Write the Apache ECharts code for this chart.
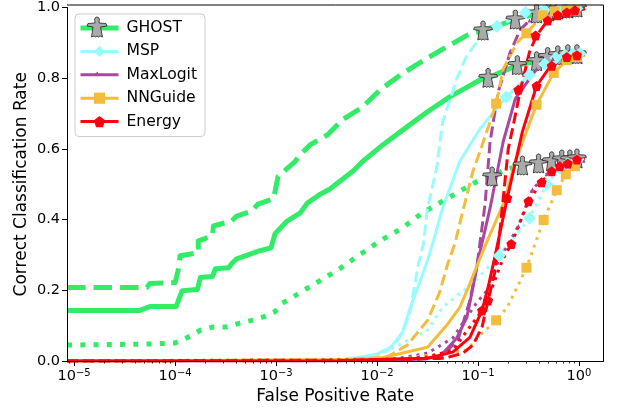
<!DOCTYPE html>
<html><head><meta charset="utf-8">
<style>html,body{margin:0;padding:0;background:#fff}#c{width:618px;height:411px}</style>
<script src="https://cdn.jsdelivr.net/npm/echarts@6/dist/echarts.min.js"></script>
</head><body><div id="c"></div>
<script>
// Every pair is [log10(False Positive Rate), Correct Classification Rate]
const ghostSolid=[[-5.07,.143],[-4.35,.143],[-4.25,.154],[-3.99,.154],[-3.93,.199],[-3.78,.202],[-3.75,.236],[-3.63,.239],[-3.60,.261],[-3.47,.264],[-3.44,.275],[-3.39,.289],[-3.16,.312],[-3.05,.320],[-3.01,.360],[-2.89,.396],[-2.76,.419],[-2.69,.447],[-2.56,.472],[-2.47,.486],[-2.24,.537],[-2.14,.565],[-1.94,.612],[-1.70,.663],[-1.50,.705],[-1.28,.747],[-.98,.795],[-.90,.801],[-.61,.837],[-.42,.848],[-.31,.860],[-.21,.865],[-.11,.868],[.06,.868]];
const ghostDashed=[[-5.07,.208],[-4.28,.208],[-4.25,.219],[-4.00,.222],[-3.97,.256],[-3.95,.298],[-3.77,.306],[-3.77,.340],[-3.63,.354],[-3.62,.382],[-3.44,.396],[-3.39,.410],[-3.24,.424],[-3.18,.444],[-3.03,.458],[-3.01,.480],[-2.98,.522],[-2.81,.565],[-2.76,.584],[-2.66,.612],[-2.49,.640],[-2.34,.683],[-2.14,.719],[-1.97,.767],[-1.77,.809],[-1.60,.840],[-1.35,.882],[-1.11,.921],[-.95,.935],[-.63,.966],[-.42,.983],[-.30,.989],[-.21,.994],[-.11,.997],[.06,1.0]];
const ghostDotted=[[-5.07,.045],[-4.25,.048],[-4.00,.051],[-3.85,.070],[-3.75,.087],[-3.63,.096],[-3.50,.096],[-3.36,.107],[-3.24,.115],[-3.11,.126],[-3.01,.140],[-2.94,.163],[-2.81,.185],[-2.76,.194],[-2.56,.228],[-2.37,.261],[-2.17,.301],[-1.97,.340],[-1.75,.376],[-1.55,.419],[-1.35,.452],[-1.11,.492],[-.99,.511],[-.86,.522],[-.73,.542],[-.56,.553],[-.40,.559],[-.27,.565],[-.17,.570],[.06,.573]];
const ghostSolidMarks=[[-.90,.801],[-.61,.837],[-.42,.848],[-.31,.860],[-.21,.865],[-.11,.868],[-.02,.868]];
const ghostDashedMarks=[[-.95,.935],[-.63,.966],[-.42,.983],[-.30,.989],[-.21,.994],[-.11,.997],[-.02,1.0]];
const ghostDottedMarks=[[-.86,.522],[-.56,.553],[-.40,.559],[-.27,.565],[-.17,.570],[-.09,.570],[-.02,.573]];

const mspSolid=[[-5.07,0],[-2.37,.003],[-2.17,.011],[-2.00,.020],[-1.87,.037],[-1.75,.079],[-1.67,.152],[-1.57,.228],[-1.50,.284],[-1.45,.331],[-1.35,.433],[-1.18,.565],[-.98,.657],[-.72,.747],[-.49,.809],[-.34,.840],[-.23,.857],[-.14,.865],[-.06,.868],[.06,.871]];
const mspDashed=[[-5.07,0],[-2.37,.003],[-2.17,.008],[-1.97,.020],[-1.82,.045],[-1.72,.101],[-1.67,.143],[-1.59,.275],[-1.54,.331],[-1.50,.433],[-1.41,.545],[-1.35,.677],[-1.21,.798],[-1.11,.865],[-1.01,.902],[-.81,.947],[-.53,.986],[-.34,.992],[-.19,.994],[-.04,.997],[.06,.997]];
const mspDotted=[[-5.07,0],[-2.37,.003],[-2.07,.008],[-1.84,.037],[-1.50,.087],[-1.35,.152],[-1.18,.191],[-1.05,.219],[-.93,.256],[-.79,.298],[-.63,.354],[-.49,.404],[-.32,.500],[-.19,.545],[-.11,.559],[-.02,.567],[.06,.570]];
const mspSolidMarks=[[-.72,.747],[-.49,.809],[-.34,.840],[-.23,.857],[-.14,.865],[-.06,.868],[.01,.870]];
const mspDashedMarks=[[-.81,.947],[-.53,.986],[-.34,.992],[-.19,.994],[-.09,.995],[-.02,.997]];
const mspDottedMarks=[[-.79,.298],[-.49,.404],[-.32,.500],[-.19,.545],[-.11,.559],[-.02,.567]];

const maxSolid=[[-5.07,0],[-1.70,.003],[-1.38,.011],[-1.21,.065],[-1.11,.124],[-1.05,.208],[-1.00,.284],[-.88,.433],[-.75,.621],[-.63,.742],[-.42,.826],[-.26,.854],[-.06,.868],[.06,.868]];
const maxDashed=[[-5.07,0],[-1.70,.003],[-1.38,.008],[-1.20,.059],[-1.08,.171],[-1.01,.270],[-.93,.444],[-.88,.621],[-.80,.761],[-.68,.874],[-.58,.938],[-.49,.963],[-.29,.986],[.06,.997]];
const maxDotted=[[-5.07,0],[-1.87,.003],[-1.50,.022],[-1.25,.065],[-1.01,.166],[-.91,.199],[-.81,.275],[-.60,.382],[-.46,.486],[-.32,.528],[-.19,.556],[.06,.565]];
const maxSolidMarks=[[-.63,.742],[-.42,.826],[-.26,.854],[-.06,.868]];
const maxDashedMarks=[[-.68,.874],[-.49,.963],[-.29,.986]];
const maxDottedMarks=[[-.60,.382],[-.46,.486],[-.32,.528],[-.19,.556]];

const nnSolid=[[-5.07,0],[-2.47,.003],[-1.97,.008],[-1.50,.039],[-1.31,.101],[-1.18,.152],[-1.08,.219],[-.95,.312],[-.75,.444],[-.63,.565],[-.52,.649],[-.42,.725],[-.25,.815],[-.12,.851],[-.02,.860],[.06,.865]];
const nnDashed=[[-5.07,0],[-2.37,.003],[-1.90,.011],[-1.70,.045],[-1.50,.115],[-1.38,.194],[-1.30,.275],[-1.23,.331],[-1.15,.424],[-1.05,.537],[-.98,.593],[-.82,.728],[-.75,.826],[-.61,.902],[-.52,.927],[-.36,.978],[-.24,.989],[.06,.994]];
const nnDotted=[[-5.07,0],[-1.77,.006],[-1.38,.020],[-1.11,.031],[-.98,.073],[-.82,.115],[-.71,.152],[-.58,.228],[-.52,.264],[-.47,.303],[-.35,.399],[-.22,.483],[-.13,.528],[-.04,.551],[.06,.565]];
const nnSolidMarks=[[-.42,.725],[-.25,.815],[-.12,.851],[-.02,.860]];
const nnDashedMarks=[[-.82,.728],[-.52,.927],[-.36,.978],[-.24,.989],[-.13,.992],[-.04,.994]];
const nnDottedMarks=[[-.82,.115],[-.52,.264],[-.35,.399],[-.22,.483],[-.13,.528],[-.04,.551]];

const energySolid=[[-5.07,0],[-2.37,.001],[-1.84,.006],[-1.50,.008],[-1.25,.025],[-1.08,.067],[-.96,.143],[-.90,.208],[-.83,.298],[-.71,.461],[-.56,.649],[-.42,.778],[-.29,.831],[-.12,.860],[-.02,.865],[.06,.868]];
const energyDashed=[[-5.07,0],[-2.37,.001],[-1.33,.008],[-1.15,.022],[-1.05,.045],[-.96,.096],[-.90,.171],[-.83,.256],[-.78,.376],[-.70,.601],[-.66,.654],[-.58,.767],[-.49,.874],[-.42,.921],[-.31,.963],[.06,.997]];
const energyDotted=[[-5.07,0],[-2.00,.003],[-1.50,.011],[-1.25,.031],[-.98,.135],[-.86,.208],[-.76,.284],[-.67,.331],[-.50,.452],[-.37,.506],[-.27,.537],[-.19,.551],[-.11,.559],[-.02,.570],[.06,.573]];
const energySolidMarks=[[-.96,.143],[-.71,.461],[-.42,.778],[-.27,.835],[-.12,.860],[-.02,.865]];
const energyDashedMarks=[[-.90,.171],[-.60,.767],[-.43,.921],[-.31,.963],[-.21,.978],[-.12,.986],[-.04,.992]];
const energyDottedMarks=[[-.67,.331],[-.50,.452],[-.37,.506],[-.27,.537],[-.19,.551],[-.11,.559],[-.02,.570]];

const xTickExponents=[-5,-4,-3,-2,-1,0];

const ghostOutline=[[10,0],[8.4,.6],[7.6,2],[7.8,3.6],[8,6],[1,6.5],[0,9],[6,10],[4.5,20],[7,19],[8.5,20],[10,19],[11.5,20],[13,19],[15.5,20],[13.5,10],[20,9],[19,6.5],[12,6],[12.2,3.6],[12.4,2],[11.6,.6]];
const ghostPath='path://M'+ghostOutline.map(p=>p.join(' ')).join('L')+'Z';
const pentagonPath='path://M10 0L20 7.6 16.2 20 3.8 20 0 7.6Z';

const methods=[
 {name:'GHOST',color:'#32EC68',width:5,symbol:ghostPath,size:19,fill:'#AAAAAA',ownLegendMark:true,sets:[ghostSolid,ghostDashed,ghostDotted],marks:[ghostSolidMarks,ghostDashedMarks,ghostDottedMarks]},
 {name:'MSP',color:'#99FAFF',width:3,symbol:'diamond',size:13,sets:[mspSolid,mspDashed,mspDotted],marks:[mspSolidMarks,mspDashedMarks,mspDottedMarks]},
 {name:'MaxLogit',color:'#A8489E',width:3,symbol:'triangle',size:4,ownLegendMark:true,sets:[maxSolid,maxDashed,maxDotted],marks:[maxSolidMarks,maxDashedMarks,maxDottedMarks]},
 {name:'NNGuide',color:'#F4BC3C',width:3,symbol:'rect',size:10,sets:[nnSolid,nnDashed,nnDotted],marks:[nnSolidMarks,nnDashedMarks,nnDottedMarks]},
 {name:'Energy',color:'#FF0010',width:3,symbol:pentagonPath,size:10,sets:[energySolid,energyDashed,energyDotted],marks:[energySolidMarks,energyDashedMarks,energyDottedMarks]}
];
const toPoint=p=>[Math.pow(10,p[0]),p[1]];
const series=[];
methods.forEach(m=>{
  const dashes=['solid',[3.7*m.width,1.6*m.width],[1*m.width,1.65*m.width]];
  const markerStyle=m.fill?{color:m.fill,borderColor:'#222',borderWidth:.8}:{color:m.color};
  m.sets.forEach((set,i)=>{
    series.push({type:'line',name:i===0?m.name:m.name+' '+i,data:set.map(toPoint),
      symbol:m.symbol,symbolSize:m.size,showSymbol:false,
      lineStyle:{color:m.color,width:m.width,type:dashes[i],cap:'butt',join:'round'},
      itemStyle:markerStyle,silent:true,animation:false,z:3,clip:true});
    series.push({type:'scatter',name:m.name+' marks '+i,data:m.marks[i].map(toPoint),
      symbol:m.symbol,symbolSize:m.size,itemStyle:Object.assign({opacity:1},markerStyle),
      silent:true,animation:false,z:3,clip:true});
  });
});
const minorTicks=[];
for(let e=-6;e<=0;e++){for(let k=2;k<=9;k++){const v=k*Math.pow(10,e);if(v>=8.5e-6&&v<=1.75)minorTicks.push(v);}}
const font='"DejaVu Sans"';
const expLabel=v=>{const e=Math.round(Math.log10(v));return '{b|10}{s|'+(e<0?'\u2212'+(-e):e)+'}';};
const option={
  animation:false,backgroundColor:'#fff',
  grid:{left:67,right:14.5,top:5,bottom:50,containLabel:false},
  legend:{orient:'vertical',left:75,top:14,padding:[6,8,7,3],
    data:methods.map(m=>({name:m.name,
      lineStyle:{width:m.width,color:m.color},
      itemStyle:m.ownLegendMark?{color:'transparent',borderWidth:0,borderColor:'transparent'}:undefined})),
    itemWidth:38,itemHeight:14,itemGap:7.4,
    backgroundColor:'rgba(255,255,255,.8)',borderColor:'#ccc',borderWidth:1,borderRadius:4,
    textStyle:{fontFamily:font,fontSize:15.6,color:'#000',padding:[0,0,0,3]},selectedMode:false,z:20},
  xAxis:[{type:'log',logBase:10,min:8.5e-6,max:1.75,position:'bottom',name:'False Positive Rate',nameLocation:'middle',nameGap:27,
    nameTextStyle:{fontFamily:font,fontSize:17,color:'#000'},
    axisLine:{show:true,onZero:false,lineStyle:{color:'#000',width:1}},
    axisTick:{show:true,length:5,inside:false,lineStyle:{color:'#000',width:1},customValues:xTickExponents.map(e=>Math.pow(10,e))},
    axisLabel:{show:true,margin:7,fontFamily:font,fontSize:14.5,color:'#000',customValues:xTickExponents.map(e=>Math.pow(10,e)),
      formatter:expLabel,
      rich:{b:{fontFamily:font,fontSize:14.5,color:'#000'},s:{fontFamily:font,fontSize:10,color:'#000',verticalAlign:'top',padding:[0,0,6,0]}}},
    splitLine:{show:false},minorSplitLine:{show:false},z:10},
   {type:'log',logBase:10,min:8.5e-6,max:1.75,position:'bottom',
    axisLine:{show:false},axisLabel:{show:false},splitLine:{show:false},
    axisTick:{show:true,length:2.5,lineStyle:{color:'#000',width:.8},customValues:minorTicks},z:10}],
  yAxis:{type:'value',min:0,max:1,interval:.2,name:'Correct Classification Rate',nameLocation:'middle',nameGap:37,nameMoveOverlap:false,
    nameTextStyle:{fontFamily:font,fontSize:17,color:'#000'},
    axisLine:{show:true,lineStyle:{color:'#000',width:1}},axisTick:{show:true,length:5,lineStyle:{color:'#000',width:1}},
    axisLabel:{margin:7,fontFamily:font,fontSize:14.5,color:'#000',formatter:v=>v.toFixed(1),showMaxLabel:true,showMinLabel:true},
    splitLine:{show:false},z:10},
  graphic:[
    {type:'rect',silent:true,z:100,shape:{x:60,y:0,width:558,height:4.5},style:{fill:'#fff'}},
    {type:'line',silent:true,z:101,shape:{x1:67,y1:5,x2:603.5,y2:5},style:{stroke:'#000',lineWidth:1}},
    {type:'line',silent:true,z:101,shape:{x1:603.5,y1:5,x2:603.5,y2:361},style:{stroke:'#000',lineWidth:1}},
    {type:'polygon',silent:true,z:102,x:87,y:17,shape:{points:ghostOutline},style:{fill:'#AAAAAA',stroke:'#222',lineWidth:.8}},
    {type:'polygon',silent:true,z:102,shape:{points:[[94.5,74],[98,71.5],[98,76.5]]},style:{fill:'#A8489E'}}
  ],
  series
};
echarts.init(document.getElementById('c'),null,{renderer:'canvas'}).setOption(option);
</script></body></html>
